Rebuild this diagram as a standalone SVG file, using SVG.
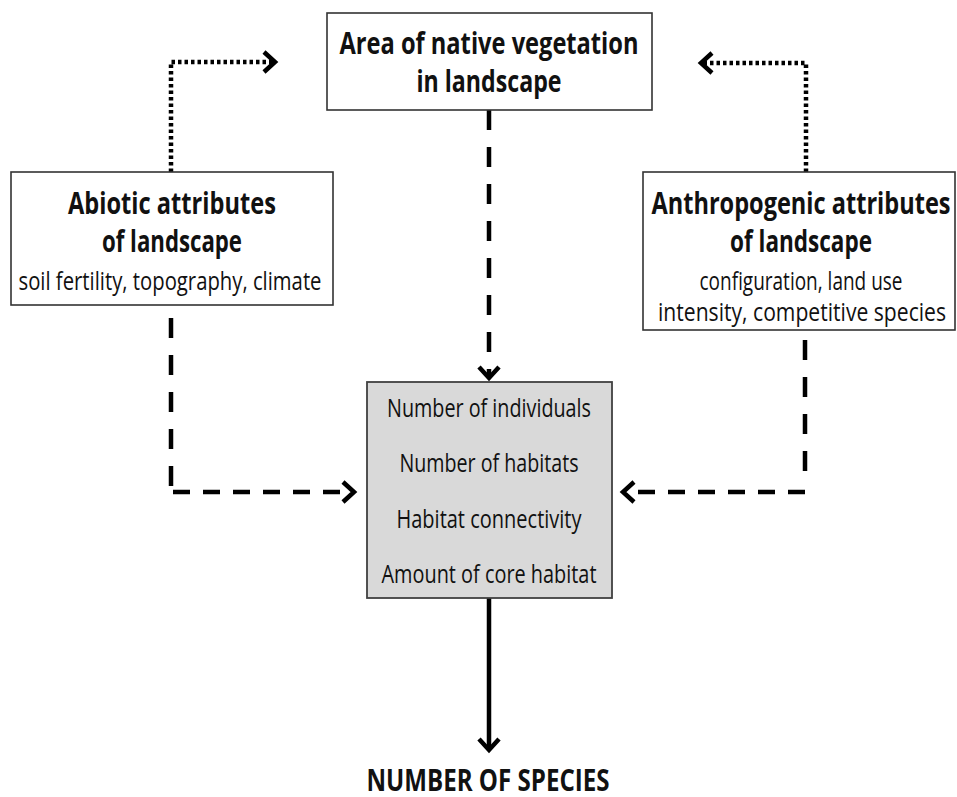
<svg xmlns="http://www.w3.org/2000/svg" width="957" height="797" viewBox="0 0 957 797">
<defs>
<style>
.box{fill:#fff;stroke:#333;stroke-width:1.6}
.core{fill:#d9d9d9;stroke:#404040;stroke-width:1.8}
.h{font-family:"Open Sans","Liberation Sans",sans-serif;font-weight:bold;font-size:31px;fill:#111;text-anchor:middle}
.t{font-family:"Open Sans","Liberation Sans",sans-serif;font-size:25px;fill:#111;text-anchor:middle}
.c{fill:none;stroke:#000;stroke-width:4.5}
.dv{stroke-dasharray:20 17}
.dh{stroke-dasharray:17 13}
.dot{stroke-dasharray:3.5 3;stroke-width:4.5}
</style>
<marker id="chev" markerUnits="userSpaceOnUse" orient="auto" refX="0" refY="0" markerWidth="30" markerHeight="30" overflow="visible">
<path d="M-11,-10 L0,0 L-11,10" fill="none" stroke="#000" stroke-width="4.5" stroke-dasharray="none" stroke-linejoin="miter"/>
</marker>
</defs>
<rect width="957" height="797" fill="#fff"/>
<g id="connectors">
<path class="c dot" d="M171,172 V62 H275" marker-end="url(#chev)"/>
<path class="c dot" d="M806,172 V63 H701" marker-end="url(#chev)"/>
<path class="c dv" d="M489,110 V378" marker-end="url(#chev)"/>
<path class="c dv" d="M171,318 V487"/>
<path class="c dh" d="M173,492 H354" marker-end="url(#chev)"/>
<path class="c dv" d="M805,340 V487"/>
<path class="c dh" d="M805,492 H623" marker-end="url(#chev)"/>
<path class="c" d="M489,598 V750" marker-end="url(#chev)"/>
</g>
<g id="area-native-vegetation">
<rect class="box" x="327" y="13" width="325" height="97"/>
<text class="h" x="489" y="54" textLength="299" lengthAdjust="spacingAndGlyphs">Area of native vegetation</text>
<text class="h" x="489" y="92" textLength="145" lengthAdjust="spacingAndGlyphs">in landscape</text>
</g>
<g id="abiotic">
<rect class="box" x="11" y="172" width="322" height="133"/>
<text class="h" x="172" y="214" textLength="208" lengthAdjust="spacingAndGlyphs">Abiotic attributes</text>
<text class="h" x="172" y="252" textLength="140" lengthAdjust="spacingAndGlyphs">of landscape</text>
<text class="t" x="170" y="290" textLength="303" lengthAdjust="spacingAndGlyphs">soil fertility, topography, climate</text>
</g>
<g id="anthropogenic">
<rect class="box" x="643" y="172" width="312" height="158"/>
<text class="h" x="801" y="214" textLength="299" lengthAdjust="spacingAndGlyphs">Anthropogenic attributes</text>
<text class="h" x="801" y="252" textLength="142" lengthAdjust="spacingAndGlyphs">of landscape</text>
<text class="t" x="801" y="290" textLength="203" lengthAdjust="spacingAndGlyphs">configuration, land use</text>
<text class="t" x="802" y="321" textLength="288" lengthAdjust="spacingAndGlyphs">intensity, competitive species</text>
</g>
<g id="landscape-factors">
<rect class="core" x="367" y="382" width="245" height="216"/>
<text class="t" x="489" y="417" textLength="204" lengthAdjust="spacingAndGlyphs">Number of individuals</text>
<text class="t" x="489" y="472" textLength="179" lengthAdjust="spacingAndGlyphs">Number of habitats</text>
<text class="t" x="489" y="528" textLength="185" lengthAdjust="spacingAndGlyphs">Habitat connectivity</text>
<text class="t" x="489" y="583" textLength="215" lengthAdjust="spacingAndGlyphs">Amount of core habitat</text>
</g>
<g id="number-of-species">
<text class="h" x="488" y="791" font-size="29" textLength="243" lengthAdjust="spacingAndGlyphs">NUMBER OF SPECIES</text>
</g>
</svg>
